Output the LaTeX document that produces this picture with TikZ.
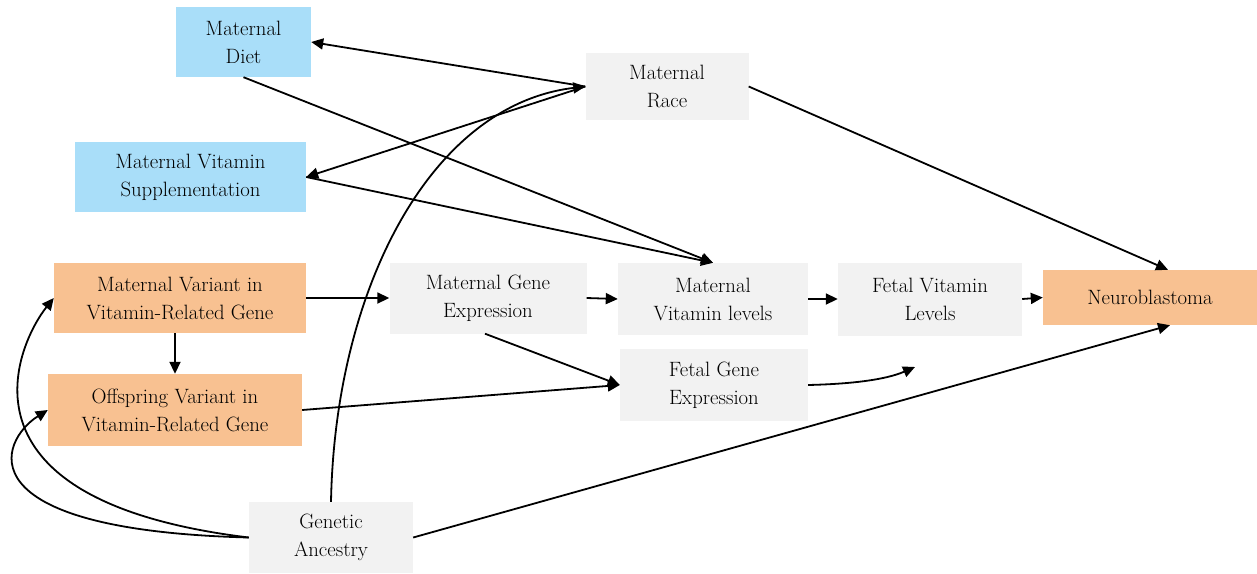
\documentclass[tikz,border=0pt]{standalone}
\usetikzlibrary{arrows.meta}
\definecolor{dietblue}{RGB}{169,222,249}
\definecolor{varorange}{RGB}{248,193,145}
\definecolor{boxgray}{RGB}{242,242,242}
\tikzset{
  base/.style={inner sep=0pt, align=center, font=\rmfamily\fontsize{20.74}{28}\selectfont, text=black},
  bluebox/.style={base, fill=dietblue},
  orangebox/.style={base, fill=varorange},
  graybox/.style={base, fill=boxgray},
  link/.style={line width=1.8pt, -{Triangle[length=12pt,width=11pt]}},
}
\begin{document}
\begin{tikzpicture}[x=1pt,y=-1pt]
\useasboundingbox (0,0) rectangle (1257,573);

% exposures
\node[bluebox, minimum width=135pt, minimum height=70pt] (diet) at (243.5,42) {Maternal\\Diet};
\node[bluebox, minimum width=231pt, minimum height=70pt] (supp) at (190.5,177) {Maternal Vitamin\\Supplementation};
\node[graybox, minimum width=163pt, minimum height=67pt] (race) at (667,86.5) {Maternal\\Race};

% genetic variants
\node[orangebox, minimum width=252pt, minimum height=70pt] (matvar) at (180,298) {Maternal Variant in\\Vitamin-Related Gene};
\node[orangebox, minimum width=254pt, minimum height=72pt] (offvar) at (175,410) {Offspring Variant in\\Vitamin-Related Gene};
\node[graybox, minimum width=164pt, minimum height=71pt] (ga) at (331,537.5) {Genetic\\Ancestry};

% mediators
\node[graybox, minimum width=197pt, minimum height=71pt] (mge) at (488,298) {Maternal Gene\\Expression};
\node[graybox, minimum width=190pt, minimum height=72pt] (mvl) at (713,299) {Maternal\\Vitamin levels};
\node[graybox, minimum width=184pt, minimum height=73pt] (fvl) at (930,299) {Fetal Vitamin\\Levels};
\node[graybox, minimum width=188pt, minimum height=72pt] (fge) at (714,385) {Fetal Gene\\Expression};

% outcome
\node[orangebox, minimum width=214pt, minimum height=55pt] (nb) at (1150,297.5) {Neuroblastoma};

\coordinate (fgeend) at (915,367);

% race links
\draw[link] (race.west) -- (diet.east);
\draw[link] (race.west) -- (supp.east);
\draw[link] (race.east) -- ([xshift=18pt]nb.north);

% diet and supplements to maternal vitamin levels
\draw[link] (diet.south) -- (mvl.north);
\draw[link] (supp.east) -- (mvl.north);

% main chain
\draw[link] (matvar.east) -- (mge.west);
\draw[link] (mge.east) -- (mvl.west);
\draw[link] (mvl.east) -- (fvl.west);
\draw[link] (fvl.east) -- (nb.west);
\draw[link] ([xshift=-5pt]matvar.south) -- (offvar.north);

% fetal gene expression
\draw[link] ([xshift=-3pt]mge.south) -- (fge.west);
\draw[link] (offvar.east) -- (fge.west);
\draw[link] (fge.east) .. controls (850,384) and (885,380) .. (fgeend);

% genetic ancestry
\draw[link] (ga.east) -- ([xshift=20pt]nb.south);
\draw[link] (ga.north) .. controls (335,290) and (430,105) .. (race.west);
\draw[link] (ga.west) .. controls (-60,500) and (20,340) .. (matvar.west);
\draw[link] (ga.west) .. controls (-40,530) and (0,440) .. (offvar.west);
\end{tikzpicture}
\end{document}
